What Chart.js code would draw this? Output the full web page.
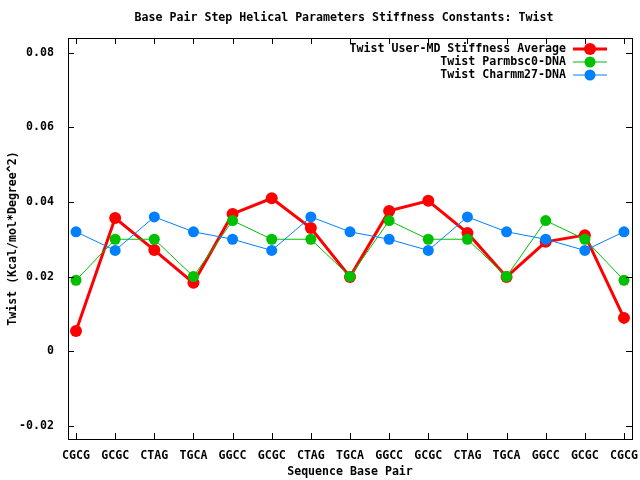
<!DOCTYPE html>
<html><head><meta charset="utf-8">
<script src="https://cdn.jsdelivr.net/npm/chart.js@4"></script>
<style>html,body{margin:0;padding:0;background:#fff}#w{width:640px;height:480px}</style>
</head><body><div id="w"><canvas id="c"></canvas></div>
<script>
const categories = ["CGCG","GCGC","CTAG","TGCA","GGCC","GCGC","CTAG","TGCA","GGCC","GCGC","CTAG","TGCA","GGCC","GCGC","CGCG"];
const userMD = [0.0054,0.0357,0.0271,0.0183,0.0368,0.0410,0.0330,0.0199,0.0376,0.0403,0.0317,0.0199,0.0293,0.0311,0.0089];
const parmbsc0 = [0.019,0.030,0.030,0.020,0.035,0.030,0.030,0.020,0.035,0.030,0.030,0.020,0.035,0.030,0.019];
const charmm27 = [0.032,0.027,0.036,0.032,0.030,0.027,0.036,0.032,0.030,0.027,0.036,0.032,0.030,0.027,0.032];
const yTicks = [-0.02,0,0.02,0.04,0.06,0.08];
const seriesNames = ["Twist User-MD Stiffness Average","Twist Parmbsc0-DNA","Twist Charmm27-DNA"];
const FS = 11.6;
const FONT = "bold " + FS + "px 'DejaVu Sans Mono'";
const F = {family:'DejaVu Sans Mono',weight:'bold',size:FS};

const toPts = arr => arr.map((v,i)=>({x:i,y:v}));
const colors = ["#ff0000","#00c000","#0080ff"];

const gp = {
  id:'gp',
  afterDraw(chart){
    const {ctx, chartArea:a, scales:{x,y}} = chart;
    ctx.save();
    ctx.strokeStyle='#000'; ctx.lineWidth=1;
    ctx.strokeRect(a.left+0.5,a.top+0.5,a.right-a.left,a.bottom-a.top);
    ctx.beginPath();
    yTicks.forEach(v=>{const p=Math.round(y.getPixelForValue(v))+0.5;
      ctx.moveTo(a.left,p);ctx.lineTo(a.left+6,p);ctx.moveTo(a.right,p);ctx.lineTo(a.right-6,p);});
    categories.forEach((c,i)=>{const p=Math.round(x.getPixelForValue(i))+0.5;
      ctx.moveTo(p,a.bottom);ctx.lineTo(p,a.bottom-6);ctx.moveTo(p,a.top);ctx.lineTo(p,a.top+6);});
    ctx.stroke();
    // title
    ctx.fillStyle='#000'; ctx.font=FONT; ctx.textAlign='center'; ctx.textBaseline='middle';
    ctx.fillText("Base Pair Step Helical Parameters Stiffness Constants: Twist",344,18);
    // legend
    const ds = chart.data.datasets;
    ds.forEach((d,i)=>{
      const yy = 49 + i*13;
      ctx.textAlign='right'; ctx.fillStyle='#000'; ctx.font=FONT;
      ctx.fillText(seriesNames[i],566,yy);
      ctx.strokeStyle=d.borderColor; ctx.lineWidth=d.borderWidth;
      ctx.beginPath();ctx.moveTo(573,yy);ctx.lineTo(607,yy);ctx.stroke();
      ctx.fillStyle=d.borderColor;ctx.beginPath();ctx.arc(590,yy,d.pointRadius,0,Math.PI*2);ctx.fill();
    });
    ctx.restore();
  }
};

new Chart(document.getElementById('c'),{
  type:'line',
  data:{datasets:[
    {label:seriesNames[0],data:toPts(userMD),borderColor:colors[0],backgroundColor:colors[0],borderWidth:3,pointRadius:6,pointBorderWidth:0,order:3},
    {label:seriesNames[1],data:toPts(parmbsc0),borderColor:colors[1],backgroundColor:colors[1],borderWidth:1,pointRadius:5.5,pointBorderWidth:0,order:2},
    {label:seriesNames[2],data:toPts(charmm27),borderColor:colors[2],backgroundColor:colors[2],borderWidth:1,pointRadius:5.5,pointBorderWidth:0,order:1}
  ]},
  options:{
    responsive:true,maintainAspectRatio:false,animation:false,
    layout:{padding:{top:38,right:8,left:0,bottom:0}},
    plugins:{legend:{display:false},title:{display:false},tooltip:{enabled:false}},
    scales:{
      x:{type:'linear',min:-0.205,max:14.205,
        afterFit(s){s.height=41;s.paddingLeft=0;s.paddingRight=0;},
        afterBuildTicks(s){s.ticks=categories.map((c,i)=>({value:i}));},
        grid:{display:false},border:{display:false},
        ticks:{autoSkip:false,maxRotation:0,padding:2,color:'#000',font:F,callback:(v)=>categories[v]},
        title:{display:true,text:'Sequence Base Pair',color:'#000',padding:{top:4,bottom:1},font:F}
      },
      y:{min:-0.0236,max:0.084,
        afterFit(s){s.width=68;s.paddingTop=0;s.paddingBottom=0;},
        afterBuildTicks(s){s.ticks=yTicks.map(v=>({value:v}));},
        grid:{display:false},border:{display:false},
        ticks:{padding:6,color:'#000',font:F,callback:(v)=>v===0?'0':v.toFixed(2)},
        title:{display:true,text:'Twist (Kcal/mol*Degree^2)',color:'#000',padding:{top:6,bottom:0},font:F}
      }
    }
  },
  plugins:[gp]
});
</script></body></html>
